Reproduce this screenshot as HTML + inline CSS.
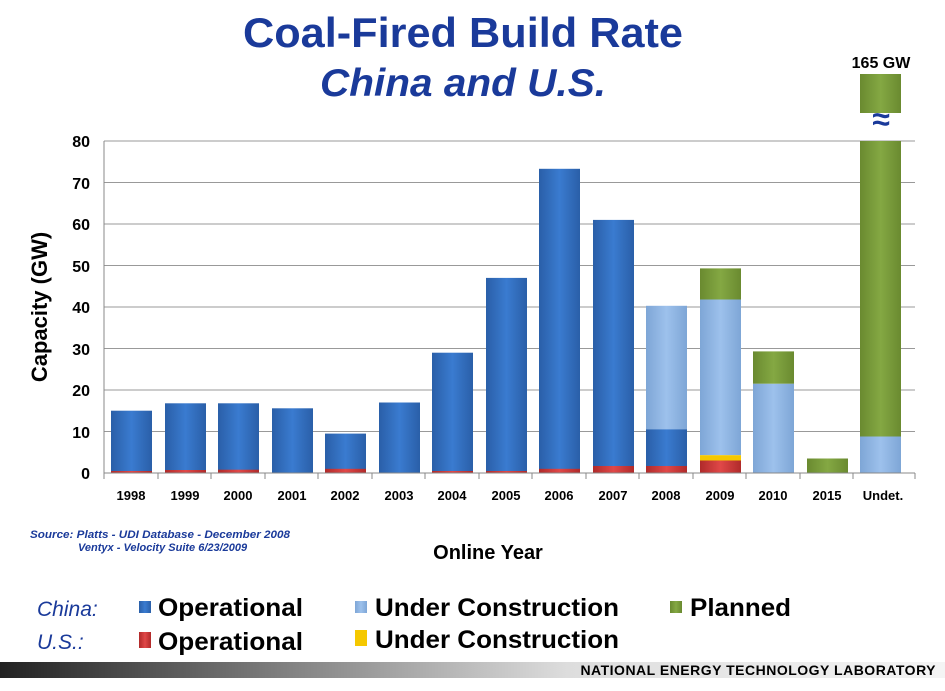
<!DOCTYPE html><html><head><style>body{margin:0;background:#fff}svg{display:block}text{font-family:"Liberation Sans",Arial,sans-serif}</style></head><body>
<svg width="945" height="691" xmlns="http://www.w3.org/2000/svg">
<defs>
<linearGradient id="cb" x1="0" x2="1"><stop offset="0" stop-color="#2a5fa8"/><stop offset=".5" stop-color="#3a7bd0"/><stop offset="1" stop-color="#2a5fa8"/></linearGradient>
<linearGradient id="lb" x1="0" x2="1"><stop offset="0" stop-color="#7ea6d6"/><stop offset=".5" stop-color="#9dc1ec"/><stop offset="1" stop-color="#7ea6d6"/></linearGradient>
<linearGradient id="gr" x1="0" x2="1"><stop offset="0" stop-color="#6a8a30"/><stop offset=".5" stop-color="#84a843"/><stop offset="1" stop-color="#6a8a30"/></linearGradient>
<linearGradient id="rd" x1="0" x2="1"><stop offset="0" stop-color="#b02a2a"/><stop offset=".5" stop-color="#e04848"/><stop offset="1" stop-color="#b02a2a"/></linearGradient>
<linearGradient id="ft" x1="0" x2="1"><stop offset="0" stop-color="#222"/><stop offset=".6" stop-color="#ddd"/><stop offset="1" stop-color="#f4f4f4"/></linearGradient>
</defs>
<text x="463" y="47" text-anchor="middle" font-size="42" font-weight="bold" fill="#1a3a9a" textLength="440" lengthAdjust="spacingAndGlyphs">Coal-Fired Build Rate</text>
<text x="463" y="96" text-anchor="middle" font-size="39" font-weight="bold" font-style="italic" fill="#1a3a9a" textLength="286" lengthAdjust="spacingAndGlyphs">China and U.S.</text>
<g stroke="#999" stroke-width="1">
<line x1="104" y1="141" x2="915" y2="141"/><line x1="104" y1="182.5" x2="915" y2="182.5"/><line x1="104" y1="224" x2="915" y2="224"/><line x1="104" y1="265.5" x2="915" y2="265.5"/><line x1="104" y1="307" x2="915" y2="307"/><line x1="104" y1="348.5" x2="915" y2="348.5"/><line x1="104" y1="390" x2="915" y2="390"/><line x1="104" y1="431.5" x2="915" y2="431.5"/>
</g>
<g font-size="16" font-weight="bold" text-anchor="end" fill="#000">
<text x="90" y="147">80</text><text x="90" y="189">70</text><text x="90" y="230">60</text><text x="90" y="272">50</text><text x="90" y="313">40</text><text x="90" y="355">30</text><text x="90" y="396">20</text><text x="90" y="438">10</text><text x="90" y="479">0</text>
</g>
<text transform="translate(47,307) rotate(-90)" text-anchor="middle" font-size="22" font-weight="bold">Capacity (GW)</text>
<g id="bars">
<rect x="111" y="410.7" width="41" height="62.3" fill="url(#cb)"/>
<rect x="165" y="403.3" width="41" height="69.7" fill="url(#cb)"/>
<rect x="218" y="403.3" width="41" height="69.7" fill="url(#cb)"/>
<rect x="272" y="408.3" width="41" height="64.7" fill="url(#cb)"/>
<rect x="325" y="433.6" width="41" height="39.4" fill="url(#cb)"/>
<rect x="379" y="402.5" width="41" height="70.5" fill="url(#cb)"/>
<rect x="432" y="352.7" width="41" height="120.3" fill="url(#cb)"/>
<rect x="486" y="277.9" width="41" height="195.1" fill="url(#cb)"/>
<rect x="539" y="168.8" width="41" height="304.2" fill="url(#cb)"/>
<rect x="593" y="219.9" width="41" height="253.1" fill="url(#cb)"/>
<rect x="646" y="305.8" width="41" height="124.6" fill="url(#lb)"/>
<rect x="646" y="429.4" width="41" height="43.6" fill="url(#cb)"/>
<rect x="700" y="268.4" width="41" height="31.1" fill="url(#gr)"/>
<rect x="700" y="299.5" width="41" height="155.7" fill="url(#lb)"/>
<rect x="753" y="351.4" width="41" height="32.4" fill="url(#gr)"/>
<rect x="753" y="383.8" width="41" height="89.2" fill="url(#lb)"/>
<rect x="807" y="458.5" width="41" height="14.5" fill="url(#gr)"/>
<rect x="860" y="141" width="41" height="295.5" fill="url(#gr)"/>
<rect x="860" y="436.5" width="41" height="36.5" fill="url(#lb)"/>
<rect x="860" y="74" width="41" height="39" fill="url(#gr)"/>
<rect x="111" y="471" width="41" height="2" fill="url(#rd)"/>
<rect x="165" y="470" width="41" height="3" fill="url(#rd)"/>
<rect x="218" y="469.7" width="41" height="3.3" fill="url(#rd)"/>
<rect x="325" y="468.8" width="41" height="4.2" fill="url(#rd)"/>
<rect x="432" y="471" width="41" height="2" fill="url(#rd)"/>
<rect x="486" y="471" width="41" height="2" fill="url(#rd)"/>
<rect x="539" y="468.8" width="41" height="4.2" fill="url(#rd)"/>
<rect x="593" y="466" width="41" height="7" fill="url(#rd)"/>
<rect x="646" y="466" width="41" height="7" fill="url(#rd)"/>
<rect x="700" y="460.5" width="41" height="12.5" fill="url(#rd)"/>
<rect x="700" y="455.2" width="41" height="5.3" fill="#f5c800"/>
</g>
<text x="881" y="130" text-anchor="middle" font-size="32" font-weight="bold" fill="#1a3a9a">≈</text>
<text x="881" y="68" text-anchor="middle" font-size="16" font-weight="bold">165 GW</text>
<line x1="104" y1="141" x2="104" y2="473" stroke="#888"/>
<line x1="104" y1="473" x2="915" y2="473" stroke="#888"/>
<g stroke="#888">
<line x1="104" y1="473" x2="104" y2="479"/><line x1="158" y1="473" x2="158" y2="479"/><line x1="211" y1="473" x2="211" y2="479"/><line x1="265" y1="473" x2="265" y2="479"/><line x1="318" y1="473" x2="318" y2="479"/><line x1="372" y1="473" x2="372" y2="479"/><line x1="425" y1="473" x2="425" y2="479"/><line x1="479" y1="473" x2="479" y2="479"/><line x1="532" y1="473" x2="532" y2="479"/><line x1="586" y1="473" x2="586" y2="479"/><line x1="639" y1="473" x2="639" y2="479"/><line x1="693" y1="473" x2="693" y2="479"/><line x1="746" y1="473" x2="746" y2="479"/><line x1="800" y1="473" x2="800" y2="479"/><line x1="853" y1="473" x2="853" y2="479"/><line x1="915" y1="473" x2="915" y2="479"/>
</g>
<g font-size="13" font-weight="bold" text-anchor="middle">
<text x="131" y="500">1998</text><text x="185" y="500">1999</text><text x="238" y="500">2000</text><text x="292" y="500">2001</text><text x="345" y="500">2002</text><text x="399" y="500">2003</text><text x="452" y="500">2004</text><text x="506" y="500">2005</text><text x="559" y="500">2006</text><text x="613" y="500">2007</text><text x="666" y="500">2008</text><text x="720" y="500">2009</text><text x="773" y="500">2010</text><text x="827" y="500">2015</text><text x="883" y="500">Undet.</text>
</g>
<text x="488" y="559" text-anchor="middle" font-size="20" font-weight="bold">Online Year</text>
<text x="30" y="538" font-size="11" font-weight="bold" font-style="italic" fill="#1a3a9a" textLength="260" lengthAdjust="spacingAndGlyphs">Source: Platts - UDI Database - December 2008</text>
<text x="78" y="551" font-size="11" font-weight="bold" font-style="italic" fill="#1a3a9a">Ventyx - Velocity Suite 6/23/2009</text>
<g font-size="25" font-weight="bold">
<text x="37" y="616" font-style="italic" font-weight="normal" font-size="21" fill="#1a3a9a">China:</text>
<text x="37" y="649" font-style="italic" font-weight="normal" font-size="21" fill="#1a3a9a">U.S.:</text>
<rect x="139" y="601" width="12" height="12" fill="url(#cb)"/><text x="158" y="616" textLength="145" lengthAdjust="spacingAndGlyphs">Operational</text>
<rect x="355" y="601" width="12" height="12" fill="url(#lb)"/><text x="375" y="616" textLength="244" lengthAdjust="spacingAndGlyphs">Under Construction</text>
<rect x="670" y="601" width="12" height="12" fill="url(#gr)"/><text x="690" y="616" textLength="101" lengthAdjust="spacingAndGlyphs">Planned</text>
<rect x="139" y="632" width="12" height="16" fill="url(#rd)"/><text x="158" y="650" textLength="145" lengthAdjust="spacingAndGlyphs">Operational</text>
<rect x="355" y="630" width="12" height="16" fill="#f5c800"/><text x="375" y="648" textLength="244" lengthAdjust="spacingAndGlyphs">Under Construction</text>
</g>
<rect x="0" y="662" width="945" height="16" fill="url(#ft)"/>
<text x="936" y="675" text-anchor="end" font-size="14" font-weight="bold" letter-spacing="0.5">NATIONAL ENERGY TECHNOLOGY LABORATORY</text>
</svg>
</body></html>
